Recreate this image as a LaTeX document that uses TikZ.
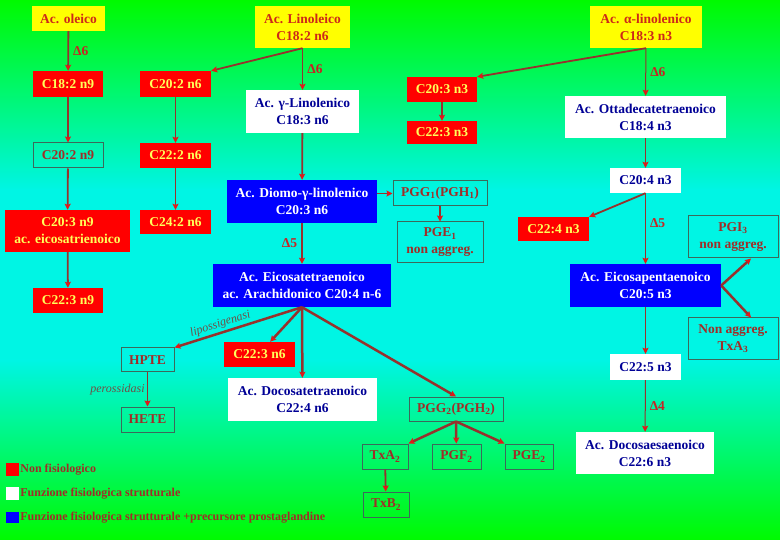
\documentclass[tikz,border=0pt]{standalone}
\usepackage{fontspec}
\setmainfont{Liberation Serif}
\usetikzlibrary{arrows.meta,positioning}

\definecolor{bggreen}{RGB}{0,250,0}
\definecolor{bgcyan}{RGB}{0,245,228}
\definecolor{boxred}{RGB}{255,0,0}
\definecolor{boxyellow}{RGB}{255,255,0}
\definecolor{boxblue}{RGB}{0,0,255}
\definecolor{navytext}{RGB}{0,0,150}
\definecolor{brownred}{RGB}{160,45,40}
\definecolor{yelltext}{RGB}{255,255,90}
\definecolor{yboxtext}{RGB}{205,40,25}
\definecolor{linered}{RGB}{150,50,45}
\definecolor{tipred}{RGB}{225,25,25}
\definecolor{framegray}{RGB}{60,105,90}
\definecolor{enzgray}{RGB}{110,80,70}
\definecolor{deltared}{RGB}{200,35,35}

\begin{document}
\begin{tikzpicture}[x=1pt,y=-1pt,->,>={Stealth[length=6pt,width=6pt,inset=1pt,color=tipred]},
  every edge/.append style={draw=linered},
  box/.style={inner sep=0pt,align=center,font=\bfseries\fontsize{13.5}{17}\selectfont},
  sz/.style 2 args={minimum width=#1pt,minimum height=#2pt},
  redbox/.style={box,fill=boxred,text=yelltext},
  yellowbox/.style={box,fill=boxyellow,text=yboxtext},
  whitebox/.style={box,fill=white,text=navytext},
  bluebox/.style={box,fill=boxblue,text=white},
  plainbox/.style={box,draw=framegray,line width=1pt,text=brownred},
  delta/.style={font=\bfseries\fontsize{13.5}{16}\selectfont,text=deltared,inner sep=4pt},
  enzyme/.style={font=\itshape\fontsize{12}{14}\selectfont,text=enzgray,inner sep=2pt},
  legend/.style={font=\bfseries\fontsize{12}{14}\selectfont,text=brownred,inner sep=0pt}]

  % background
  \useasboundingbox (0,0) rectangle (780,540);
  \shade[-,top color=bggreen,bottom color=bgcyan] (0,0) rectangle (780,190);
  \fill[-,bgcyan] (0,189) rectangle (780,361);
  \shade[-,top color=bgcyan,bottom color=bggreen] (0,360) rectangle (780,540);

  % boxes
  \node[yellowbox,sz={73}{25}] (oleico) at (68.5,18.5) {Ac. oleico};
  \node[yellowbox,sz={95}{42}] (linoleico) at (302.5,27) {Ac. Linoleico\\C18:2 n6};
  \node[yellowbox,sz={112}{42}] (alinolenico) at (646,27) {Ac. α-linolenico\\C18:3 n3};

  \node[redbox,sz={70}{26}] (c18n9) at (68,84) {C18:2 n9};
  \node[redbox,sz={71}{26}] (c20n6) at (175.5,84) {C20:2 n6};
  \node[whitebox,sz={113}{43}] (glinolenico) at (302.5,111.5) {Ac. γ-Linolenico\\C18:3 n6};
  \node[redbox,sz={70}{25}] (c20n3) at (442,89.5) {C20:3 n3};
  \node[redbox,sz={70}{23}] (c22n3) at (442,132.5) {C22:3 n3};
  \node[whitebox,sz={161}{42}] (ottadec) at (645.5,117) {Ac. Ottadecatetraenoico\\C18:4 n3};

  \node[plainbox,sz={70}{25}] (c20n9) at (68,155.5) {C20:2 n9};
  \node[redbox,sz={71}{25}] (c22n6) at (175.5,155.5) {C22:2 n6};
  \node[whitebox,sz={71}{25}] (c20n4) at (645.5,180.5) {C20:4 n3};
  \node[bluebox,sz={150}{43}] (diomo) at (302,201.5) {Ac. Diomo-γ-linolenico\\C20:3 n6};
  \node[plainbox,sz={94}{25}] (pgg1) at (440,193.5) {PGG\textsubscript{1}(PGH\textsubscript{1})};

  \node[redbox,sz={125}{42}] (c20n9b) at (67.5,231) {C20:3 n9\\ac. eicosatrienoico};
  \node[redbox,sz={71}{24}] (c24n6) at (175.5,222) {C24:2 n6};
  \node[plainbox,sz={86}{41}] (pge1) at (440,242.5) {PGE\textsubscript{1}\\non aggreg.};
  \node[redbox,sz={71}{24}] (c22n4) at (553.5,229) {C22:4 n3};
  \node[plainbox,sz={90}{42}] (pgi3) at (733,237) {PGI\textsubscript{3}\\non aggreg.};

  \node[bluebox,sz={178}{43}] (arachidonico) at (302,285.5) {Ac. Eicosatetraenoico\\ac. Arachidonico C20:4 n-6};
  \node[bluebox,sz={151}{43}] (epa) at (645.5,285.5) {Ac. Eicosapentaenoico\\C20:5 n3};
  \node[redbox,sz={70}{25}] (c22n9) at (68,300.5) {C22:3 n9};
  \node[plainbox,sz={90}{42}] (txa3) at (733,339) {Non aggreg.\\TxA\textsubscript{3}};

  \node[redbox,sz={71}{25}] (c22n6b) at (259.5,354.5) {C22:3 n6};
  \node[plainbox,sz={53}{24}] (hpte) at (147.5,360) {HPTE};
  \node[whitebox,sz={71}{26}] (c22n5) at (645.5,367) {C22:5 n3};
  \node[whitebox,sz={149}{43}] (docosatetra) at (302.5,399.5) {Ac. Docosatetraenoico\\C22:4 n6};
  \node[plainbox,sz={94}{24}] (pgg2) at (456,409) {PGG\textsubscript{2}(PGH\textsubscript{2})};
  \node[plainbox,sz={53}{25}] (hete) at (147.5,419.5) {HETE};
  \node[whitebox,sz={138}{42}] (dha) at (645,453) {Ac. Docosaesaenoico\\C22:6 n3};
  \node[plainbox,sz={46}{25}] (txa2) at (385,456.5) {TxA\textsubscript{2}};
  \node[plainbox,sz={49}{25}] (pgf2) at (456.5,456.5) {PGF\textsubscript{2}};
  \node[plainbox,sz={48}{25}] (pge2) at (529,456.5) {PGE\textsubscript{2}};
  \node[plainbox,sz={46}{25}] (txb2) at (386,504.5) {TxB\textsubscript{2}};

  % legend
  \node[fill=boxred,sz={13}{13}] (legred) at (12.5,469.5) {};
  \node[fill=white,sz={13}{13}] (legwhite) at (12.5,493.5) {};
  \node[fill=boxblue,sz={13}{11}] (legblue) at (12.5,517.5) {};
  \node[legend,right=1pt of legred] (legredtext) {Non fisiologico};
  \node[legend,right=1pt of legwhite] (legwhitetext) {Funzione fisiologica strutturale};
  \node[legend,right=1pt of legblue] (legbluetext) {Funzione fisiologica strutturale +precursore prostaglandine};

  \path[line width=1.8pt, every node/.style={delta}]
    (oleico) edge node [right] {Δ6} (c18n9)
    (c18n9) edge (c20n9)
    (c20n9) edge (c20n9b)
    (c20n9b) edge (c22n9)
    (linoleico.south) edge (c20n6.north east)
    (linoleico) edge node [right] {Δ6} (glinolenico)
    (c20n6) edge (c22n6)
    (c22n6) edge (c24n6)
    (glinolenico) edge (diomo)
    (diomo.east |- pgg1.west) edge (pgg1.west)
    (pgg1) edge (pge1)
    (diomo) edge node [left] {Δ5} (arachidonico)
    (alinolenico.south) edge (c20n3.north east)
    (c20n3) edge (c22n3)
    (c20n4.south) edge (c22n4.north east)
    (hpte) edge node [enzyme, left] {perossidasi} (hete)
    (txa2) edge (txb2);

  % thin right column
  \path[line width=1pt, every node/.style={delta}]
    (alinolenico) edge node [right] {Δ6} (ottadec)
    (ottadec) edge (c20n4)
    (c20n4) edge node [right, pos=0.42] {Δ5} (epa)
    (epa) edge (c22n5)
    (c22n5) edge node [right] {Δ4} (dha);

  \path[line width=2.5pt]
    (arachidonico.south) edge node [enzyme, sloped, above, pos=0.62] {lipossigenasi} (hpte.north east)
    (arachidonico.south) edge (c22n6b.50)
    (arachidonico.south) edge (docosatetra)
    (arachidonico.south) edge (pgg2.north)
    (pgg2.south) edge (txa2.north east)
    (pgg2.south) edge (pgf2)
    (pgg2.south) edge (pge2.north west)
    (epa.east) edge (pgi3.-50)
    (epa.east) edge (txa3.50);

\end{tikzpicture}
\end{document}
